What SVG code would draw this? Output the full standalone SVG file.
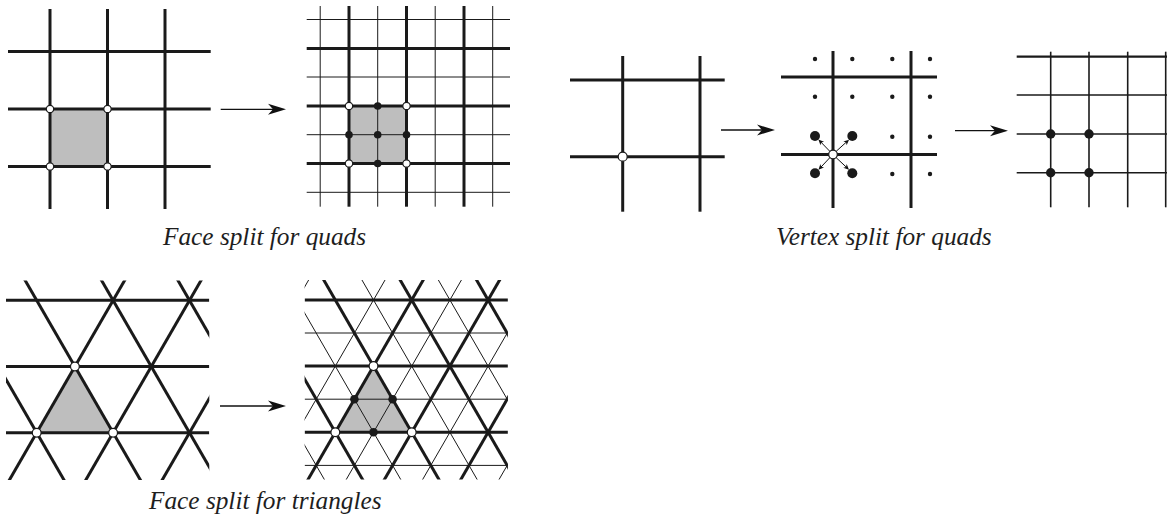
<svg xmlns="http://www.w3.org/2000/svg" xmlns:xlink="http://www.w3.org/1999/xlink" width="1167" height="524" viewBox="0 0 1167 524">
<style>
.thick{stroke:#1a1a1a;stroke-width:3;fill:none}
.mid{stroke:#1a1a1a;stroke-width:1.6;fill:none}
.thin{stroke:#1a1a1a;stroke-width:1;fill:none}
.face{fill:#bebebe;stroke:none}
.open{fill:#fff;stroke:#1a1a1a;stroke-width:1.2}
.dot{fill:#1a1a1a;stroke:none}
.arrow{stroke:#111;stroke-width:1.3;fill:none}
.cap{font-family:"Liberation Serif","Times New Roman",serif;font-style:italic;font-size:25.3px;fill:#1e1e1e}
</style>
<defs>
<marker id="ah" markerUnits="userSpaceOnUse" viewBox="-10 -7 22 14" markerWidth="22" markerHeight="14" refX="0" refY="0" orient="auto">
<path d="M10,0 L-8,-5.5 L-3,0 L-8,5.5 Z" fill="#111"/>
</marker>
<marker id="ahs" markerUnits="userSpaceOnUse" viewBox="-4 -4 8 8" markerWidth="8" markerHeight="8" refX="0" refY="0" orient="auto">
<path d="M3,0 L-2.5,-2.5 L-1,0 L-2.5,2.5 Z" fill="#111"/>
</marker>
<clipPath id="tclip" clipPathUnits="userSpaceOnUse"><rect x="6" y="280.5" width="203.3" height="199.5"/></clipPath>
<g id="triCoarse">
<line class="thick" x1="6" y1="300.3" x2="209.3" y2="300.3"/>
<line class="thick" x1="6" y1="366.5" x2="209.3" y2="366.5"/>
<line class="thick" x1="6" y1="432.7" x2="209.3" y2="432.7"/>
<line class="thick" x1="6.5" y1="485" x2="127.75" y2="275"/>
<line class="thick" x1="82.9" y1="485" x2="204.15" y2="275"/>
<line class="thick" x1="159.3" y1="485" x2="280.55" y2="275"/>
<line class="thick" x1="66.9" y1="485" x2="-54.35" y2="275"/>
<line class="thick" x1="143.3" y1="485" x2="22.05" y2="275"/>
<line class="thick" x1="219.7" y1="485" x2="98.45" y2="275"/>
<line class="thick" x1="296.1" y1="485" x2="174.85" y2="275"/>
</g>
</defs>

<g id="quad-face-before">
<rect class="face" x="50" y="109" width="57.5" height="57.5"/>
<line class="thick" x1="50" y1="9" x2="50" y2="209"/>
<line class="thick" x1="107.5" y1="9" x2="107.5" y2="209"/>
<line class="thick" x1="165" y1="9" x2="165" y2="209"/>
<line class="thick" x1="8" y1="51.5" x2="210.7" y2="51.5"/>
<line class="thick" x1="8" y1="109" x2="210.7" y2="109"/>
<line class="thick" x1="8" y1="166.5" x2="210.7" y2="166.5"/>
<circle class="open" cx="50" cy="109" r="3.7"/>
<circle class="open" cx="107.5" cy="109" r="3.7"/>
<circle class="open" cx="50" cy="166.5" r="3.7"/>
<circle class="open" cx="107.5" cy="166.5" r="3.7"/>
</g>

<g id="quad-face-after">
<rect class="face" x="349" y="106" width="57.5" height="57.5"/>
<line class="thin" x1="320.2" y1="6" x2="320.2" y2="206.7"/>
<line class="thin" x1="377.7" y1="6" x2="377.7" y2="206.7"/>
<line class="thin" x1="435.2" y1="6" x2="435.2" y2="206.7"/>
<line class="thin" x1="492.7" y1="6" x2="492.7" y2="206.7"/>
<line class="thin" x1="306.7" y1="19.5" x2="510" y2="19.5"/>
<line class="thin" x1="306.7" y1="77" x2="510" y2="77"/>
<line class="thin" x1="306.7" y1="134.7" x2="510" y2="134.7"/>
<line class="thin" x1="306.7" y1="192.3" x2="510" y2="192.3"/>
<line class="thick" x1="349" y1="6" x2="349" y2="206.7"/>
<line class="thick" x1="406.5" y1="6" x2="406.5" y2="206.7"/>
<line class="thick" x1="464" y1="6" x2="464" y2="206.7"/>
<line class="thick" x1="306.7" y1="48.5" x2="510" y2="48.5"/>
<line class="thick" x1="306.7" y1="106" x2="510" y2="106"/>
<line class="thick" x1="306.7" y1="163.5" x2="510" y2="163.5"/>
<circle class="open" cx="349" cy="106" r="3.7"/>
<circle class="open" cx="406.5" cy="106" r="3.7"/>
<circle class="open" cx="349" cy="163.5" r="3.7"/>
<circle class="open" cx="406.5" cy="163.5" r="3.7"/>
<circle class="dot" cx="377.7" cy="106" r="3.8"/>
<circle class="dot" cx="349" cy="134.7" r="3.8"/>
<circle class="dot" cx="377.7" cy="134.7" r="3.8"/>
<circle class="dot" cx="406.5" cy="134.7" r="3.8"/>
<circle class="dot" cx="377.7" cy="163.5" r="3.8"/>
</g>

<g id="vertex-before">
<line class="thick" x1="622.7" y1="56" x2="622.7" y2="211.7"/>
<line class="thick" x1="700" y1="56" x2="700" y2="211.7"/>
<line class="thick" x1="570" y1="80" x2="724.7" y2="80"/>
<line class="thick" x1="570" y1="156.7" x2="724.7" y2="156.7"/>
<circle class="open" cx="622.7" cy="156.7" r="4.5"/>
</g>

<g id="vertex-split">
<line class="thick" x1="833" y1="51" x2="833" y2="208"/>
<line class="thick" x1="911" y1="51" x2="911" y2="208"/>
<line class="thick" x1="781" y1="77" x2="937" y2="77"/>
<line class="thick" x1="781" y1="154.5" x2="937" y2="154.5"/>
<circle class="dot" cx="815" cy="59" r="2.2"/>
<circle class="dot" cx="852.3" cy="59" r="2.2"/>
<circle class="dot" cx="892.3" cy="59" r="2.2"/>
<circle class="dot" cx="930" cy="59" r="2.2"/>
<circle class="dot" cx="815" cy="96.7" r="2.2"/>
<circle class="dot" cx="852.3" cy="96.7" r="2.2"/>
<circle class="dot" cx="892.3" cy="96.7" r="2.2"/>
<circle class="dot" cx="930" cy="96.7" r="2.2"/>
<circle class="dot" cx="892.3" cy="136.7" r="2.2"/>
<circle class="dot" cx="930" cy="136.7" r="2.2"/>
<circle class="dot" cx="892.3" cy="174" r="2.2"/>
<circle class="dot" cx="930" cy="174" r="2.2"/>
<circle class="dot" cx="815" cy="136" r="5"/>
<circle class="dot" cx="852.3" cy="136" r="5"/>
<circle class="dot" cx="815" cy="173.3" r="5"/>
<circle class="dot" cx="852.3" cy="173.3" r="5"/>
<circle class="open" cx="833" cy="154.5" r="4.3"/>
</g>

<g id="vertex-after">
<line class="mid" x1="1050.7" y1="51.7" x2="1050.7" y2="207.3"/>
<line class="mid" x1="1089" y1="51.7" x2="1089" y2="207.3"/>
<line class="mid" x1="1127.7" y1="51.7" x2="1127.7" y2="207.3"/>
<line class="mid" x1="1165.7" y1="51.7" x2="1165.7" y2="207.3"/>
<line class="thick" style="stroke-width:2.3" x1="1016.7" y1="56.7" x2="1167" y2="56.7"/>
<line class="mid" x1="1016.7" y1="95" x2="1167" y2="95"/>
<line class="mid" x1="1016.7" y1="134" x2="1167" y2="134"/>
<line class="mid" x1="1016.7" y1="172.7" x2="1167" y2="172.7"/>
<circle class="dot" cx="1050.7" cy="134" r="4.7"/>
<circle class="dot" cx="1089" cy="134" r="4.7"/>
<circle class="dot" cx="1050.7" cy="172.7" r="4.7"/>
<circle class="dot" cx="1089" cy="172.7" r="4.7"/>
</g>

<g id="tri-face-before" clip-path="url(#tclip)">
<polygon class="face" points="74.9,366.5 36.7,432.7 113.1,432.7"/>
<use xlink:href="#triCoarse"/>
<circle class="open" cx="74.9" cy="366.5" r="4.4"/>
<circle class="open" cx="36.7" cy="432.7" r="4.4"/>
<circle class="open" cx="113.1" cy="432.7" r="4.4"/>
</g>

<g id="tri-face-after" transform="translate(298.6,-0.4)" clip-path="url(#tclip)">
<polygon class="face" points="74.9,366.5 36.7,432.7 113.1,432.7"/>
<line class="thin" x1="6" y1="333.4" x2="209.3" y2="333.4"/>
<line class="thin" x1="6" y1="399.6" x2="209.3" y2="399.6"/>
<line class="thin" x1="6" y1="465.8" x2="209.3" y2="465.8"/>
<line class="thin" x1="-108.1" y1="485" x2="13.15" y2="275"/>
<line class="thin" x1="-31.7" y1="485" x2="89.55" y2="275"/>
<line class="thin" x1="44.7" y1="485" x2="165.95" y2="275"/>
<line class="thin" x1="121.1" y1="485" x2="242.35" y2="275"/>
<line class="thin" x1="197.5" y1="485" x2="318.75" y2="275"/>
<line class="thin" x1="28.7" y1="485" x2="-92.55" y2="275"/>
<line class="thin" x1="105.1" y1="485" x2="-16.15" y2="275"/>
<line class="thin" x1="181.5" y1="485" x2="60.25" y2="275"/>
<line class="thin" x1="257.9" y1="485" x2="136.65" y2="275"/>
<use xlink:href="#triCoarse"/>
<circle class="open" cx="74.9" cy="366.5" r="4.4"/>
<circle class="open" cx="36.7" cy="432.7" r="4.4"/>
<circle class="open" cx="113.1" cy="432.7" r="4.4"/>
<circle class="dot" cx="55.8" cy="399.6" r="4.3"/>
<circle class="dot" cx="94" cy="399.6" r="4.3"/>
<circle class="dot" cx="74.9" cy="432.7" r="4.3"/>
</g>

<g id="connectors">
<line class="arrow" x1="220.7" y1="109.3" x2="276" y2="109.3" marker-end="url(#ah)"/>
<line class="arrow" x1="721" y1="130" x2="765" y2="130" marker-end="url(#ah)"/>
<line class="arrow" x1="955" y1="130.7" x2="998" y2="130.7" marker-end="url(#ah)"/>
<line class="arrow" x1="220" y1="406" x2="276" y2="406" marker-end="url(#ah)"/>
<line class="arrow" style="stroke-width:1" x1="829.8" y1="151.3" x2="820.5" y2="141.7" marker-end="url(#ahs)"/>
<line class="arrow" style="stroke-width:1" x1="836.2" y1="151.3" x2="846.8" y2="141.7" marker-end="url(#ahs)"/>
<line class="arrow" style="stroke-width:1" x1="829.8" y1="157.7" x2="820.5" y2="167.6" marker-end="url(#ahs)"/>
<line class="arrow" style="stroke-width:1" x1="836.2" y1="157.7" x2="846.8" y2="167.6" marker-end="url(#ahs)"/>
</g>

<g id="captions">
<text class="cap" x="163" y="245">Face split for quads</text>
<text class="cap" x="776" y="245">Vertex split for quads</text>
<text class="cap" x="149" y="509">Face split for triangles</text>
</g>
</svg>
